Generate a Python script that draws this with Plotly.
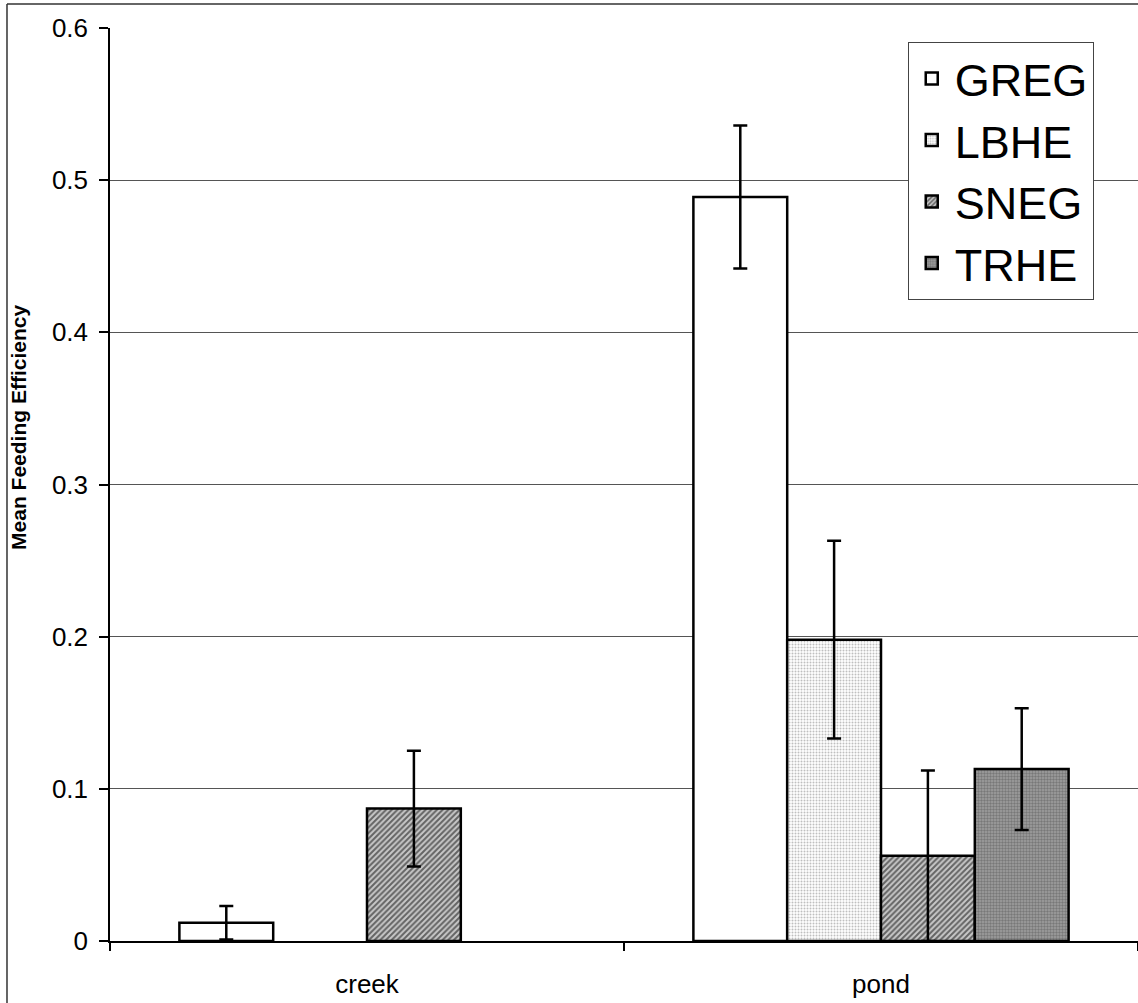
import plotly.graph_objects as go

categories = ["creek", "pond"]
series_names = ["GREG", "LBHE", "SNEG", "TRHE"]
greg = [0.012, 0.489]
greg_err = [0.011, 0.047]
lbhe = [None, 0.198]
lbhe_err = [None, 0.065]
sneg = [0.087, 0.056]
sneg_err = [0.038, 0.056]
trhe = [None, 0.113]
trhe_err = [None, 0.040]
y_ticks = [0, 0.1, 0.2, 0.3, 0.4, 0.5, 0.6]
y_tick_labels = ["0", "0.1", "0.2", "0.3", "0.4", "0.5", "0.6"]

values = [greg, lbhe, sneg, trhe]
errors = [greg_err, lbhe_err, sneg_err, trhe_err]
patterns = [
    dict(shape="", bgcolor="white"),
    dict(shape=".", fgcolor="#808080", bgcolor="white", size=3, solidity=0.35),
    dict(shape="/", fgcolor="black", bgcolor="#c8c8c8", size=4, solidity=0.5),
    dict(shape=".", fgcolor="#505050", bgcolor="#a0a0a0", size=3, solidity=0.5),
]
fills = ["white", "white", "#c8c8c8", "#a0a0a0"]

fig = go.Figure()
for name, v, e, p, f in zip(series_names, values, errors, patterns, fills):
    fig.add_trace(go.Bar(
        name=name, x=categories, y=v,
        marker=dict(color=f, pattern=p, line=dict(color="black", width=2.5)),
        error_y=dict(type="data", array=e, visible=True, color="black",
                     thickness=2.5, width=7),
    ))

fig.update_layout(
    width=1138, height=1003,
    margin=dict(l=110, r=0, t=28, b=62),
    paper_bgcolor="white", plot_bgcolor="white",
    barmode="group", bargap=0.27, bargroupgap=0,
    font=dict(family="Arial, Liberation Sans, sans-serif", color="black"),
    showlegend=True,
    legend=dict(
        x=0.776, y=0.985, xanchor="left", yanchor="top",
        font=dict(size=45, color="black"),
        bgcolor="white", bordercolor="#444", borderwidth=1,
        tracegroupgap=0, itemwidth=36,
    ),
    xaxis=dict(
        showline=True, linecolor="black", linewidth=1.5,
        ticks="outside", ticklen=8, tickcolor="black", tickwidth=1.5,
        tickson="boundaries", tickfont=dict(size=26),
        ticklabelstandoff=19, showgrid=False,
    ),
    yaxis=dict(
        range=[0, 0.6], tickvals=y_ticks, ticktext=y_tick_labels,
        showline=True, linecolor="black", linewidth=1.5,
        ticks="outside", ticklen=9, tickcolor="black", tickwidth=1.5,
        tickfont=dict(size=26), ticklabelstandoff=6,
        showgrid=True, gridcolor="#555555", gridwidth=1,
        zeroline=False,
    ),
)

fig.add_annotation(
    text="<b>Mean Feeding Efficiency</b>", textangle=-90,
    xref="paper", yref="paper", x=-0.0885, y=0.562,
    xanchor="center", yanchor="middle", showarrow=False,
    font=dict(size=21, color="black"),
)

# outer chart frame (left and top edges visible in the cropped reference)
fig.add_shape(type="line", xref="paper", yref="paper",
              x0=-0.1002, y0=-0.2, x1=-0.1002, y1=1.0263,
              line=dict(color="#333", width=1.5), layer="above")
fig.add_shape(type="line", xref="paper", yref="paper",
              x0=-0.1002, y0=1.0263, x1=1.2, y1=1.0263,
              line=dict(color="#333", width=1.5), layer="above")

fig.write_html("out.html", config={"displayModeBar": False},
               post_script="document.body.style.margin='0';")
